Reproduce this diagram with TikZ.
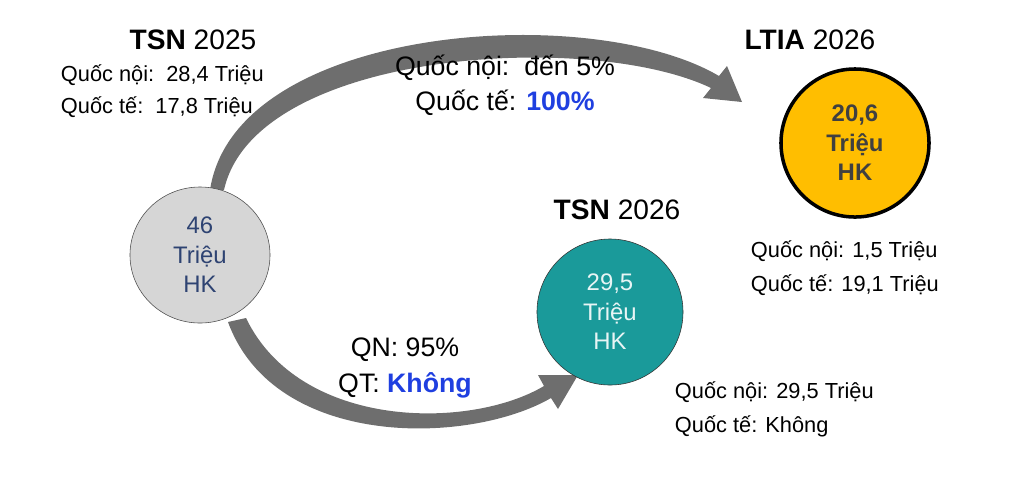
\documentclass[tikz,border=0pt]{standalone}
\usepackage{fontspec}
\setmainfont{Liberation Sans}
\usetikzlibrary{shapes.geometric}
\definecolor{greyfill}{HTML}{D6D6D6}
\definecolor{tealfill}{HTML}{1A9A9A}
\definecolor{goldfill}{HTML}{FFBE00}
\definecolor{arrowgrey}{HTML}{6E6E6E}
\definecolor{navytext}{HTML}{2E4372}
\definecolor{bluetext}{HTML}{1F3FE0}
\begin{document}
\begin{tikzpicture}[x=0.025cm, y=-0.025cm,
  hub/.style = {draw, ellipse, inner sep=0pt, align=center, font=\fontsize{17}{21}\selectfont},
  title/.style = {font=\fontsize{20}{24}\selectfont},
  info/.style = {anchor=west, font=\fontsize{15.5}{18}\selectfont},
  flow/.style = {align=center, font=\fontsize{19}{25}\selectfont},
  flowarrow/.style = {fill=arrowgrey, draw=none}]
\useasboundingbox (0,0) rectangle (1028,483);

% arrows
\fill[flowarrow] (210,190) .. controls (235,25) and (590,0) .. (719,76)
  -- (727,66) -- (742,102) -- (703,98) -- (711,88)
  .. controls (590,30) and (255,50) .. (224,190) -- cycle;
\fill[flowarrow] (228,322) .. controls (275,450) and (470,445) .. (551,398)
  -- (558,409) -- (578,375) -- (538,375) -- (544,386)
  .. controls (470,430) and (300,430) .. (246,318) -- cycle;

% circles
\node[hub, fill=greyfill, draw=black!70, minimum width=3.5cm, minimum height=3.4cm, text=navytext] (tsn25) at (200,255) {46\\Triệu\\HK};
\node[hub, fill=tealfill, draw=black!80, minimum width=3.65cm, minimum height=3.65cm, text=white!90!tealfill] (tsn26) at (610,312) {29,5\\Triệu\\HK};
\node[hub, fill=goldfill, draw=black, line width=2.5pt, minimum width=3.7cm, minimum height=3.7cm, text=black!75, font=\fontsize{17}{21}\selectfont\bfseries] (ltia) at (855,143) {20,6\\Triệu\\HK};

% titles
\node[title] (t25) at (193,40) {\textbf{TSN} 2025};
\node[title] (t26a) at (810,40) {\textbf{LTIA} 2026};
\node[title] (t26b) at (617,210) {\textbf{TSN} 2026};

% passenger figures
\node[info] (a1) at (56,75) {Quốc nội:\ \ 28,4 Triệu};
\node[info] (a2) at (56,107) {Quốc tế:\ \ 17,8 Triệu};
\node[info] (b1) at (746,251) {Quốc nội: 1,5 Triệu};
\node[info] (b2) at (746,285) {Quốc tế: 19,1 Triệu};
\node[info] (c1) at (670,392) {Quốc nội: 29,5 Triệu};
\node[info] (c2) at (670,426) {Quốc tế: Không};

% shares
\node[flow] (s1) at (505,85) {Quốc nội:\ \ đến 5\%\\Quốc tế: \textcolor{bluetext}{\textbf{100\%}}};
\node[flow] (s2) at (405,368) {QN: 95\%\\QT: \textcolor{bluetext}{\textbf{Không}}};
\end{tikzpicture}
\end{document}
